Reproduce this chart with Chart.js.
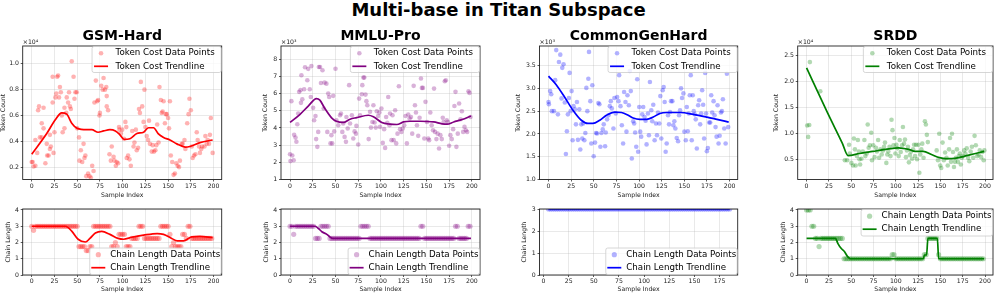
<!DOCTYPE html>
<html><head><meta charset="utf-8">
<script src="https://cdn.jsdelivr.net/npm/chart.js@4.4.1/dist/chart.umd.min.js"></script>
<style>
body{margin:0;background:#fff;width:997px;height:294px;position:relative;overflow:hidden;font-family:"DejaVu Sans",sans-serif;}
#suptitle{position:absolute;left:0;top:0.8px;width:997px;text-align:center;font-weight:bold;font-size:18px;line-height:18px;color:#000;white-space:nowrap;}
canvas{position:absolute;}
</style></head><body>
<div id="suptitle">Multi-base in Titan Subspace</div>
<script>
// ---------- tick labels ----------
const sampleTicks = [0,25,50,75,100,125,150,175,200];
const sampleTicksCgh = [0,25,50,75,100,125,150,175];
const gsmTokenTicks = [0.2,0.4,0.6,0.8,1.0];
const mmluTokenTicks = [1,2,3,4,5,6,7,8];
const cghTokenTicks = [1.0,1.5,2.0,2.5,3.0,3.5];
const srddTokenTicks = [0.5,1.0,1.5,2.0,2.5];
const chainTicks = [0,1,2,3,4];
const chainTicksCgh = [0,1,2,3];
const tokenLabels = ['Token Cost Data Points','Token Cost Trendline'];
const chainLabels = ['Chain Length Data Points','Chain Length Trendline'];

// ---------- GSM-Hard (token count, x10^4) ----------
const gsmTokX = [0,1,2,4,4,6,7,8,9,11, 11,13,13,15,16.5,17,18.5,20,20,21, 23,23,24,25,26,27,28,29,30,31, 32,33,34,36,36,38,38.5,40,41,42, 43,44,46,47,48,49.5,50,52,52.5,54, 55.5,57,58,59,60,62,63.5,65,66.5,68, 69,70.5,72,73,74.5,75,76.5,78,79,80.5, 82,82.5,82.5,84,85.5,87,88,90,91,92.5, 93.5,95,96,96.5,98,99.5,101.5,103,104,104.5, 106,107.5,109,110.5,112,113,114.5,115.5,117,118, 119,120,121.5,123,124,125,126.5,128,129,130, 132,133,134.5,136,137,138,139.5,140.5,142,143, 144,145,146.5,147.5,148.5,150,151,152,153,154.5, 156,157.5,159,160.5,162,163,165,166,168,169, 171,172.5,173.5,175,176,177,178.5,180,181.5,182.5, 184,185,186.5,187.5,190,191,192.5,193.5,195,196, 197,199];
const gsmTokY = [0.24,0.24,0.205,0.21,0.41,0.31,0.64,0.67,0.43,0.43, 0.54,0.66,0.5,0.23,0.38,0.29,0.29,0.34,0.45,0.36, 0.9,0.7,0.31,0.47,0.74,0.77,0.9,0.91,0.74,0.82, 0.78,0.6,0.47,0.66,0.5,0.62,0.74,0.7,0.78,0.67, 0.65,1.02,0.9,0.73,0.78,0.78,0.5,0.43,0.25,0.33, 0.24,0.38,0.27,0.29,0.13,0.15,0.13,0.12,0.21,0.17, 0.7,0.87,0.71,0.72,0.6,0.62,0.83,0.8,0.89,0.8, 0.82,0.75,0.67,0.64,0.3,0.25,0.36,0.28,0.25,0.21, 0.24,0.23,0.51,0.49,0.46,0.49,0.42,0.55,0.51,0.27, 0.29,0.26,0.21,0.48,0.36,0.39,0.49,0.33,0.35,0.65, 0.62,0.86,0.67,0.55,0.8,0.51,0.44,0.41,0.56,0.38, 0.32,0.37,0.32,0.33,0.37,0.53,0.39,0.82,0.72,0.62, 0.63,0.71,0.54,0.61,0.61,0.58,0.5,0.71,0.29,0.24, 0.14,0.15,0.23,0.21,0.2,0.25,0.38,0.38,0.41,0.34, 0.54,0.61,0.73,0.64,0.36,0.27,0.29,0.3,0.47,0.41, 0.36,0.31,0.34,0.36,0.36,0.44,0.38,0.41,0.38,0.45, 0.58,0.31];
const gsmTrendX = [0,16.5,25.7,33,38.5,44,50,60.5,66,73, 79,86,92,97,101.6,108,115.6,123,128.4,134, 139,145,152,159.6,168.8,174,185,199];
const gsmTrendY = [0.30,0.46,0.565,0.62,0.61,0.54,0.5,0.49,0.49,0.47, 0.48,0.49,0.48,0.45,0.415,0.42,0.46,0.47,0.505,0.505, 0.46,0.43,0.41,0.38,0.355,0.36,0.39,0.41];

// ---------- MMLU-Pro (token count, x10^3) ----------
const mmluTokX = [0,0.5,2.5,4,1.5,4.5,6,7,8,9, 10,11.5,12.5,12,13.5,15.5,16.5,19,20,21.7, 22.8,23.5,25.4,26.5,28,28.7,30,31,31.7,33, 34,35.7,37,38,40,41,42,43,44.5,46.4, 45.5,47.5,48.6,50,51,53,55,56,57.5,58.5, 60,61.5,62,63.4,65,66,68,69.6,71,72.5, 73,75,76,77,79,79.5,80.7,81.7,83,84, 85,86.5,88,89,90.6,91.7,93,94.3,95.4,96.9, 98.3,99,100.5,102,103.5,104.6,105.7,107,108,109.4, 110,111.6,112.7,114,115.6,116.8,118.2,119.7,121,122.6, 124,125.6,127,128.5,130,131.5,133,134.4,136,137.4, 138.5,139.6,141,142.5,144,145,146.2,147.7,149,150.6, 152,153,154.3,155.8,157.3,158.4,159.5,161,162.4,163.9, 165.4,166.9,168,169,170.2,171.3,172.4,173.5,175,176.4, 177.9,179.4,180.8,182,183,184.5,186,187.5,189,190.4, 191.9,193.4,194.8,196.3,197.4,198.5];
const mmluTokY = [2.47,2.07,2.4,2.12,5.56,3.6,3.44,3.2,4.22,4.84, 6.1,6.2,7.07,5.46,5.67,6.25,7.53,6.78,7.44,6.25, 5.8,7.6,5.17,4.45,4.7,3.35,2.9,3.77,7.55,7.55, 6.62,7.36,5.13,6.64,6.58,3.77,6.0,5.8,3.1,3.1, 3.58,5.87,3.8,7.45,4.45,4.16,4.74,4.84,3.77,4.26, 3.48,3.19,4.64,3.97,6.49,4.26,4.74,3.39,3.8,3.67, 4.12,3.04,5.71,4.74,5.96,6.49,6.93,6.93,5.94,5.56, 5.32,3.35,4.94,4.02,4.35,5.32,4.32,4.02,4.97,4.7, 4.9,4.06,5.13,3.13,3.93,2.84,4.64,4.3,5.8,4.16, 4.84,3.29,4.74,3.29,5.03,3.1,3.67,6.43,3.93,3.77, 3.97,4.16,4.7,3.1,4.78,4.55,4.64,3.67,6.45,5.32, 4.9,4.16,3.54,4.59,6.88,6.33,6.33,3.39,5.52,4.35, 3.39,3.29,4.9,4.16,3.87,6.29,3.77,3.35,3.67,2.8, 3.58,3.35,4.59,4.35,6.72,6.78,4.45,4.35,2.96,3.58, 3.35,3.93,5.28,6.1,2.9,3.67,5.42,4.51,4.97,3.77, 4.06,3.87,3.77,6.14,6.04,4.64];
const mmluTrendX = [0,10.7,20,29,32.8,38.3,45.7,51,58.5,66, 73.3,86.2,91.7,100.9,110,117.5,124.8,132,143.3,158, 167.2,172.8,180,189.3,199];
const mmluTrendY = [4.32,4.78,5.27,5.71,5.62,5.13,4.59,4.39,4.32,4.51, 4.6,4.74,4.65,4.32,4.22,4.2,4.35,4.39,4.39,4.35, 4.24,4.22,4.35,4.49,4.7];

// ---------- CommonGenHard (token count, x10^3) ----------
const cghTokX = [0,0.4,1.8,3,3.7,6,7.4,8.5,10.4,11.5, 13,14.4,15.2,16.6,18,19.2,20.3,21.4,22.5,23.3, 24.4,25.5,26.6,27.7,29.2,30.3,31.4,32.5,34,35.1, 36.2,37.3,38.4,39.6,40.7,41.8,42.9,44,44.7,46.2, 47.3,48.4,49.9,51.4,52.5,53.6,55.1,56.2,57.3,58.4, 59.9,61,62.5,63.2,64.7,66.2,67.7,68.8,69.9,71.7, 72.8,74.3,75.8,77.3,78,79.5,81,82.4,83.5,85, 86.1,87.2,88.7,89.8,90.9,92,93.5,94.6,95.7,96.9, 98,99,100.2,101.3,102.4,103.5,104.6,106.1,107.2,108.3, 109.8,110.9,112,113.5,114.6,115.7,117.2,118.7,119.8,120.9, 122.4,123.5,124.6,126.1,127.2,128.3,129.4,130.5,132,133.1, 134.2,135.3,136.8,137.9,139,140.1,141.6,143.1,144.2,145.3, 146.4,147.5,149,150.1,151.6,152.7,153.8,154.9,156,157.1, 158.2,159.3,160.4,161.5,162.6,163.8,165.3,166.4,167.5,168.6, 169.7,170.8,171.9,173,174.1,174.9,176,177.5,178.6,179.7, 180.8,182.3,183.4,184.5,185.6,186.7,187.8,189,190.4,191.5, 192.6,194.1,195.6,197,198.5];
const cghTokY = [2.7,2.65,2.94,2.87,2.5,2.5,3.18,3.84,2.43,3.58, 3.74,2.78,3.45,3.53,2.69,1.56,2.06,2.43,2.79,3.34, 2.5,2.94,1.86,2.61,2.54,2.21,2.7,1.87,2.54,1.66, 2.21,1.9,2.23,1.86,2.02,3.01,2.5,3.21,3.8,2.72, 1.79,3.07,1.51,1.81,2.02,2.01,2.68,2.65,1.72,2.02, 2.1,2.21,1.73,2.03,2.32,2.41,2.61,2.72,2.56,2.12, 2.79,2.45,2.81,2.72,3.29,2.61,2.19,1.79,2.92,2.7, 2.05,2.85,2.63,3.38,2.94,1.46,2.28,2.23,2.03,1.72, 3.2,1.61,2.59,2.05,1.94,2.43,2.59,2.37,2.29,1.77, 2.45,1.97,3.14,2.52,2.28,2.64,1.86,2.23,1.97,2.47, 2.23,2.83,1.9,2.96,3.03,2.7,1.61,1.79,2.41,2.21, 2.48,2.72,2.72,2.19,2.28,2.12,1.91,1.84,2.41,2.52, 3.0,2.79,2.89,2.05,1.86,2.59,2.06,2.45,2.85,3.29, 1.86,2.85,2.5,2.43,2.32,1.68,2.63,2.74,2.21,2.45, 2.96,2.64,1.9,3.34,2.45,1.62,1.69,2.25,2.25,2.85, 2.47,2.72,2.41,2.15,1.94,2.63,1.79,1.96,2.47,2.5, 2.76,2.12,1.79,3.32,2.15];
const cghTrendX = [0,8.5,17.7,27,36.2,43.6,49,56.6,64,73.2, 80.6,88,93.5,100.9,108.3,115.7,123,130.5,145.3,160, 175,186,199];
const cghTrendY = [3.27,3.08,2.81,2.52,2.3,2.23,2.23,2.3,2.41,2.48, 2.47,2.41,2.35,2.32,2.32,2.37,2.45,2.47,2.47,2.43, 2.37,2.32,2.26];

// ---------- SRDD (token count, x10^4) ----------
const srddTokX = [0.7,3,1.8,3.7,15.4,42.9,45.4,47.6,48.4,50.2, 52,53,54.2,55,56.4,57.5,58.6,59.3,60,61.5, 63,64.8,65.9,67.4,68.5,69.6,71,72.5,73.3,74.7, 76.2,77.7,78.8,80.2,81.3,82.8,84.2,85.7,86.8,87.9, 89.4,90.5,91.6,93,94.1,95.2,96.3,97.4,98.5,99.6, 100.7,101.8,103.3,104.4,105.5,107,108,109.2,110.3,111.4, 112.5,113.6,114.7,115.8,117.2,118.3,119.4,120.5,121.6,122.7, 123.8,125.3,126.4,127.5,128.6,129.7,131.1,132.6,133.7,134.8, 135.9,145.8,147.3,148.7,149.8,150.9,152.4,153.8,155.3,156.8, 158.2,159.7,160.8,161.9,163,164.1,165.2,166.3,167.4,168.5, 169.6,170.7,171.8,172.9,174,175.1,176.6,178,179.5,181, 182.4,183.9,185.3,186.8,188.3,189.7,191.2,192.7,194.1,195.6, 197,198.5,199.3];
const srddTokY = [1.15,1.16,0.93,2.37,1.81,0.48,0.48,0.78,0.61,0.43, 0.38,0.9,0.69,0.38,0.56,0.87,0.65,0.5,0.4,0.51, 0.65,0.87,0.56,0.61,1.17,0.72,0.77,1.01,0.48,0.77, 0.54,0.72,0.65,0.87,0.53,0.69,0.59,0.67,0.74,0.82, 0.43,0.59,0.65,0.74,0.56,1.26,1.06,0.77,0.91,0.61, 0.78,0.71,0.56,0.87,0.64,0.77,1.12,0.8,0.88,0.54, 0.67,0.74,0.44,0.58,0.65,0.51,0.69,0.78,0.56,0.78, 0.5,0.78,0.24,0.59,0.69,0.8,0.53,1.23,1.17,0.97, 0.83,0.67,0.48,0.99,0.38,0.33,0.82,0.48,0.63,0.53, 0.38,0.69,0.91,0.45,0.99,0.64,0.35,0.45,0.53,0.69, 0.45,0.56,0.61,0.4,0.53,0.56,0.67,0.61,0.71,0.53, 0.46,0.65,0.74,0.53,0.95,0.77,0.56,0.59,0.67,0.54, 0.64,0.48,0.67];
const srddTrendX = [0,23,40,46.5,59.3,74,88.6,103.3,114.3,121.6, 130.8,140,149,156.4,162.6,172.9,183.9,199];
const srddTrendY = [2.26,1.41,0.81,0.57,0.61,0.65,0.69,0.72,0.69,0.65, 0.65,0.59,0.53,0.51,0.51,0.54,0.59,0.65];

// ---------- chain length (bottom row) ----------
const chainIdx = [0,2,4,6,8,10,12,14,16,18, 20,22,24,26,28,30,32,34,36,38, 40,42,44,46,48,50,52,54,56,58, 60,62,64,66,68,70,72,74,76,78, 80,82,84,86,88,90,92,94,96,98, 100,102,104,106,108,110,112,114,116,118, 120,122,124,126,128,130,132,134,136,138, 140,142,144,146,148,150,152,154,156,158, 160,162,164,166,168,170,172,174,176,178, 180,182,184,186,188,190,192,194,196,198];
const gsmChain = [3,2.75,3,3,3,3,3,3,3,3, 3,3,3,3,3,3,3,3,3,3, 3,3,3,3,3,3,1.75,1.75,1.75,1.75, 1.5,1.5,1.75,1.75,3,3,3,3,3,3, 3,3,3,3,1.75,1.75,2,1.75,2.5,2.5, 2.5,2.5,1.75,1.75,1.75,2.25,2.25,2.25,2.25,3, 3,3,2.25,2.25,2.25,2.25,2.25,2.25,2.25,2.25, 2.25,3,3,3,3,3,2.5,1.75,2,1.75, 1.75,1.75,1.75,2.5,2.5,2.25,3,3,2.25,2.25, 2.25,2.25,2.25,2.25,2.25,2.25,2.25,2.25,2.25,2.25];
const gsmChainTrendX = [0,37,44,51,59,64,70,77,86,95, 101,110,123,138,145,154,160,167,176,185, 199];
const gsmChainTrendY = [3,3,2.7,2.2,2.03,2.25,2.58,2.68,2.5,2.25, 2.2,2.32,2.45,2.55,2.5,2.25,2.1,2.1,2.35,2.38, 2.3];
const mmluChain = [3,3,2.5,3,3,3,3,3,3,3, 3,3,3,3,2.25,2.25,2.25,3,3,3, 3,3,2.25,2.25,2.25,2.25,2.25,2.25,2.25,2.25, 2.25,2.25,2.25,2.25,2.25,2.25,2.25,2.25,2.25,3, 3,3,3,3,2.25,2.25,2.25,2.25,2.25,2.25, 2.25,2.25,2.25,2.25,2.25,2.25,2.25,2.25,2.25,2.25, 2.25,2.25,2.25,2.25,2.25,2.25,2.25,2.25,2.25,2.25, 2.25,2.25,3,3,2.25,2.25,2.25,2.25,2.25,2.25, 2.25,2.25,2.25,2.25,2.25,2.25,2.25,2.25,2.25,2.25, 2.25,3,3,2.25,2.25,2.25,2.25,2.25,3,3];
const mmluChainTrendX = [0,27.6,31.3,35,40.5,44,47,60,199];
const mmluChainTrendY = [3,3,2.86,2.66,2.5,2.33,2.25,2.25,2.25];
const cghChainIdx = [5,7,9,11,13,15,17,19,21,23, 25,27,29,31,33,35,37,39,41,43, 45,47,49,51,53,55,57,59,61,63, 65,67,69,71,73,75,77,79,81,83, 85,87,89,91,93,95,97,99,101,103, 105,107,109,111,113,115,117,119,121,123, 125,127,129,131,133,135,137,139,141,143, 145,147,149,151,153,155,157,159,161,163, 165,167,169,171,173,175,177,179,181,183, 185];
const cghChain = [3,3,3,3,3,3,3,3,3,3, 3,3,3,3,3,3,3,3,3,3, 3,3,3,3,3,3,3,3,3,3, 3,3,3,3,3,3,3,3,3,3, 3,3,3,3,3,3,3,3,3,3, 3,3,3,3,3,3,3,3,3,3, 3,3,3,3,3,3,3,3,3,3, 3,3,3,3,3,3,3,3,3,3, 3,3,3,3,3,3,3,3,3,3, 3];
const cghChainTrendX = [5,185];
const cghChainTrendY = [3,3];
const srddChain = [4,4,4,3,3,2.25,2.25,1.75,2.25,2.25, 2.25,2.25,2.25,2.25,2.25,2.25,2.25,2.25,2.25,2.25, 2.25,1,1,1,1,1,1,1,1,1, 1,1,1,1,1,1,1,1,1,1, 1,1,1,1,1,1,1,1,1.25,1.25, 1,1,1,1,1,1,1,1,1,1, 1,1,1,1,1,1,1.25,1.25,2.25,2.25, 2.25,2.25,2.25,2.25,1.25,1,1,1,1,1, 1,1,1,1,1,1,1,1,1,1, 1,1,1,1,1,1,1,1,1,1];
const srddChainTrendX = [0,32.4,35,38.7,42.4,46,49,131,132,134.5, 136,146.6,148,199];
const srddChainTrendY = [2.25,2.25,1.95,1.64,1.44,1.13,1,1,1.23,1.23, 2.25,2.25,1,1];

// ---------- colours ----------
const red = [255,0,0], purple = [128,0,128], blue = [0,0,255], green = [0,128,0];

// ---------- layout & style ----------
const topLeg = {padL:2, handle:14, gap:7.5, padR:6.5, h:26, row1:6.7, row2:19.8};
const botLeg = {padL:1.5, handle:14, gap:5, padR:1, h:26.5, row1:6.7, row2:19.7};
const fullX = [-9.95, 208.95];

const panels = [
  {cx:0,   cy:22, cw:228, ch:178, L:22.7,  T:46, R:221.7, B:179.5, title:'GSM-Hard', offset:'×10⁴', yTitle:'Token Count', xr:fullX, xTicks:sampleTicks, yr:[0.104,1.138], yTicks:gsmTokenTicks, yDec:1, color:red, x:gsmTokX, y:gsmTokY, tx:gsmTrendX, ty:gsmTrendY, labels:tokenLabels, loc:'ur', r:2.3, leg:topLeg},
  {cx:262, cy:22, cw:224, ch:178, L:281,   T:46, R:480,   B:179.5, title:'MMLU-Pro', offset:'×10³', yTitle:'Token Count', xr:fullX, xTicks:sampleTicks, yr:[1,8.77], yTicks:mmluTokenTicks, yDec:0, color:purple, x:mmluTokX, y:mmluTokY, tx:mmluTrendX, ty:mmluTrendY, labels:tokenLabels, loc:'ur', r:2.3, leg:topLeg},
  {cx:515, cy:22, cw:229, ch:178, L:539.5, T:46, R:737.7, B:179.5, title:'CommonGenHard', offset:'×10³', yTitle:'Token Count', xr:fullX, xTicks:sampleTicks, yr:[1.0,3.93], yTicks:cghTokenTicks, yDec:1, color:blue, x:cghTokX, y:cghTokY, tx:cghTrendX, ty:cghTrendY, labels:tokenLabels, loc:'ur', r:2.3, leg:topLeg},
  {cx:773, cy:22, cw:224, ch:178, L:797.7, T:46, R:996.2, B:179.5, title:'SRDD', offset:'×10⁴', yTitle:'Token Count', xr:fullX, xTicks:sampleTicks, yr:[0.11,2.68], yTicks:srddTokenTicks, yDec:1, color:green, x:srddTokX, y:srddTokY, tx:srddTrendX, ty:srddTrendY, labels:tokenLabels, loc:'ur', r:2.3, leg:topLeg},

  {cx:5,   cy:196, cw:223, ch:98, L:22.7,  T:209, R:221.7, B:275, yTitle:'Chain Length', xr:fullX, xTicks:sampleTicks, yr:[0,4.06], yTicks:chainTicks, yDec:0, color:red, x:chainIdx, y:gsmChain, tx:gsmChainTrendX, ty:gsmChainTrendY, labels:chainLabels, loc:'lr', r:2.6, leg:botLeg},
  {cx:263, cy:196, cw:223, ch:98, L:281,   T:209, R:480,   B:275, yTitle:'Chain Length', xr:fullX, xTicks:sampleTicks, yr:[0,4.06], yTicks:chainTicks, yDec:0, color:purple, x:chainIdx, y:mmluChain, tx:mmluChainTrendX, ty:mmluChainTrendY, labels:chainLabels, loc:'lr', r:2.6, leg:botLeg},
  {cx:521, cy:196, cw:223, ch:98, L:539.5, T:209, R:737.7, B:275, yTitle:'Chain Length', xr:[-4,193], xTicks:sampleTicksCgh, yr:[0,3], yTicks:chainTicksCgh, yDec:0, color:blue, x:cghChainIdx, y:cghChain, tx:cghChainTrendX, ty:cghChainTrendY, labels:chainLabels, loc:'lr', r:2.6, leg:botLeg},
  {cx:780, cy:196, cw:217, ch:98, L:797.7, T:209, R:996.2, B:275, yTitle:'Chain Length', xr:fullX, xTicks:sampleTicks, yr:[0,4.06], yTicks:chainTicks, yDec:0, color:green, x:chainIdx, y:srddChain, tx:srddChainTrendX, ty:srddChainTrendY, labels:chainLabels, loc:'ur', r:2.6, leg:botLeg}
];

Chart.defaults.font.family = '"DejaVu Sans", sans-serif';
Chart.defaults.color = '#222';

function rgba(c, a) { return 'rgba(' + c[0] + ',' + c[1] + ',' + c[2] + ',' + a + ')'; }
function toPoints(xs, ys) { return xs.map((x, i) => ({x: x, y: ys[i]})); }

function roundRect(ctx, x, y, w, h, r) {
  ctx.beginPath();
  ctx.moveTo(x + r, y);
  ctx.lineTo(x + w - r, y); ctx.arcTo(x + w, y, x + w, y + r, r);
  ctx.lineTo(x + w, y + h - r); ctx.arcTo(x + w, y + h, x + w - r, y + h, r);
  ctx.lineTo(x + r, y + h); ctx.arcTo(x, y + h, x, y + h - r, r);
  ctx.lineTo(x, y + r); ctx.arcTo(x, y, x + r, y, r);
  ctx.closePath();
}

function drawLegend(ctx, a, p) {
  const g = p.leg;
  ctx.font = '8.7px "DejaVu Sans"';
  const tw = Math.max(ctx.measureText(p.labels[0]).width, ctx.measureText(p.labels[1]).width);
  const w = g.padL + g.handle + g.gap + tw + g.padR;
  const x = a.right - 0.5 - w;
  const y = p.loc === 'ur' ? a.top + 0.5 : a.bottom - 0.5 - g.h;
  roundRect(ctx, x, y, w, g.h, 2);
  ctx.fillStyle = 'rgba(255,255,255,0.8)'; ctx.fill();
  ctx.strokeStyle = '#cccccc'; ctx.lineWidth = 0.8; ctx.stroke();
  const hx = x + g.padL;
  ctx.beginPath(); ctx.arc(hx + g.handle / 2, y + g.row1, p.r, 0, Math.PI * 2);
  ctx.fillStyle = rgba(p.color, 0.3); ctx.fill();
  ctx.beginPath(); ctx.moveTo(hx, y + g.row2); ctx.lineTo(hx + g.handle, y + g.row2);
  ctx.strokeStyle = rgba(p.color, 1); ctx.lineWidth = 1.7; ctx.stroke();
  ctx.fillStyle = '#000'; ctx.textAlign = 'left'; ctx.textBaseline = 'middle';
  ctx.fillText(p.labels[0], hx + g.handle + g.gap, y + g.row1);
  ctx.fillText(p.labels[1], hx + g.handle + g.gap, y + g.row2);
}

function makePanel(p) {
  const cv = document.createElement('canvas');
  cv.width = p.cw; cv.height = p.ch;
  cv.style.left = p.cx + 'px'; cv.style.top = p.cy + 'px';
  cv.style.width = p.cw + 'px'; cv.style.height = p.ch + 'px';
  document.body.appendChild(cv);

  const deco = {
    id: 'deco',
    afterDatasetsDraw(chart) {
      const ctx = chart.ctx, a = chart.chartArea;
      ctx.save();
      ctx.strokeStyle = '#222'; ctx.lineWidth = 0.9;
      ctx.strokeRect(a.left, a.top, a.right - a.left, a.bottom - a.top);
      if (p.title) {
        ctx.font = 'bold 14px "DejaVu Sans"';
        ctx.fillStyle = '#000'; ctx.textAlign = 'center'; ctx.textBaseline = 'alphabetic';
        ctx.fillText(p.title, (a.left + a.right) / 2, a.top - 5.8);
      }
      if (p.offset) {
        ctx.font = '6.2px "DejaVu Sans"';
        ctx.fillStyle = '#222'; ctx.textAlign = 'left'; ctx.textBaseline = 'alphabetic';
        ctx.fillText(p.offset, a.left, a.top - 2.5);
      }
      drawLegend(ctx, a, p);
      ctx.restore();
    }
  };

  const gridCfg = {color: 'rgba(176,176,176,0.35)', lineWidth: 0.8, drawTicks: true, tickLength: 2, tickColor: '#333', tickWidth: 0.8};
  const tickFont = {size: 6.2};

  new Chart(cv, {
    type: 'line',
    data: {
      datasets: [
        {label: p.labels[1], data: toPoints(p.tx, p.ty), borderColor: rgba(p.color, 1), borderWidth: 1.7,
         pointRadius: 0, cubicInterpolationMode: 'monotone', fill: false, order: 0},
        {label: p.labels[0], data: toPoints(p.x, p.y), showLine: false, pointRadius: p.r,
         pointBackgroundColor: rgba(p.color, 0.3), pointBorderWidth: 0, pointBorderColor: 'rgba(0,0,0,0)', order: 1}
      ]
    },
    options: {
      responsive: false, animation: false, devicePixelRatio: 1, events: [],
      layout: {padding: {left: 0, top: p.T - p.cy, right: p.cx + p.cw - p.R, bottom: 0}},
      plugins: {legend: {display: false}, tooltip: {enabled: false}, title: {display: false}},
      scales: {
        x: {
          type: 'linear', min: p.xr[0], max: p.xr[1],
          afterBuildTicks: s => { s.ticks = p.xTicks.map(v => ({value: v})); },
          afterFit: s => { s.height = p.cy + p.ch - p.B; },
          grid: gridCfg, border: {display: false},
          ticks: {font: tickFont, color: '#222', padding: 1, maxRotation: 0, minRotation: 0, autoSkip: false,
                  callback: v => String(v)},
          title: {display: true, text: 'Sample Index', font: tickFont, color: '#222', padding: {top: 0, bottom: 1}}
        },
        y: {
          type: 'linear', min: p.yr[0], max: p.yr[1],
          afterBuildTicks: s => { s.ticks = p.yTicks.map(v => ({value: v})); },
          afterFit: s => { s.width = p.L - p.cx; },
          grid: gridCfg, border: {display: false},
          ticks: {font: tickFont, color: '#222', padding: 1.7, autoSkip: false,
                  callback: v => Number(v).toFixed(p.yDec)},
          title: {display: true, text: p.yTitle, font: tickFont, color: '#222', padding: {top: 0, bottom: 0}}
        }
      }
    },
    plugins: [deco]
  });
}

panels.forEach(makePanel);
</script>
</body></html>
